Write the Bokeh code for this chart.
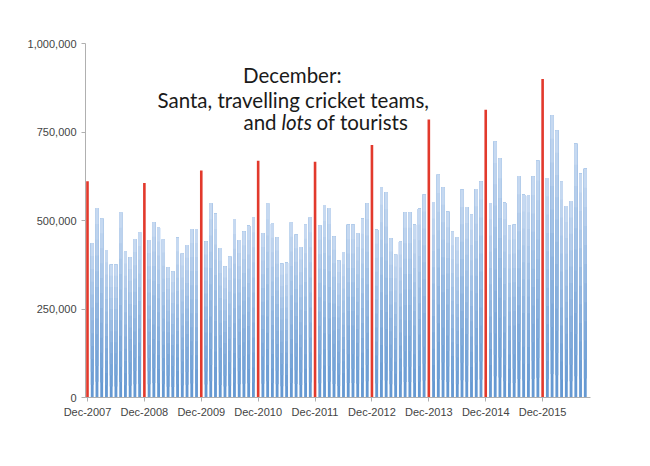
import pandas as pd
from bokeh.plotting import figure
from bokeh.models import Range1d, FixedTicker, NumeralTickFormatter, Label
from bokeh.embed import file_html
from bokeh.resources import INLINE

# ---- data ----
months = list(pd.date_range("2007-12-01", periods=106, freq="MS").strftime("%b-%Y"))
visitors = [
    611000, 436000, 535000, 506000, 417000, 375000, 375000, 523000, 413000, 396000, 448000, 467000,
    606000, 445000, 495000, 481000, 447000, 368000, 356000, 451000, 407000, 431000, 476000, 476000,
    641000, 441000, 549000, 519000, 422000, 370000, 398000, 504000, 445000, 469000, 485000, 509000,
    669000, 464000, 549000, 492000, 453000, 378000, 381000, 495000, 460000, 425000, 489000, 509000,
    666000, 486000, 544000, 535000, 455000, 387000, 411000, 488000, 488000, 464000, 505000, 549000,
    713000, 474000, 594000, 580000, 450000, 404000, 441000, 523000, 523000, 488000, 533000, 573000,
    785000, 552000, 630000, 594000, 525000, 469000, 453000, 587000, 538000, 517000, 589000, 610000,
    813000, 549000, 723000, 676000, 550000, 486000, 488000, 626000, 573000, 571000, 624000, 669000,
    900000, 620000, 797000, 754000, 610000, 541000, 555000, 717000, 632000, 646000,
]
y_ticks = [0, 250000, 500000, 750000, 1000000]

idx = list(range(len(visitors)))
is_dec = [m.startswith("Dec") for m in months]
dec_idx = [i for i in idx if is_dec[i]]

p = figure(width=650, height=466, output_backend="svg", toolbar_location=None,
           x_range=Range1d(-0.42, 106.1), y_range=Range1d(0, 1000000),
           min_border_left=85, min_border_right=60, min_border_top=43, min_border_bottom=69)
p.outline_line_color = None
p.xgrid.grid_line_color = None
p.ygrid.grid_line_color = None
p.background_fill_color = "white"
p.border_fill_color = "white"

# gradient blue bars (layered, lighter towards top)
def lerp(c1, c2, t):
    a = [int(c1[i:i + 2], 16) for i in (1, 3, 5)]
    b = [int(c2[i:i + 2], 16) for i in (1, 3, 5)]
    return "#%02x%02x%02x" % tuple(round(a[j] + (b[j] - a[j]) * t) for j in range(3))

N = 12
bottom_col, top_col = "#6699d2", "#c6d9f1"
blue_i = [i for i in idx if not is_dec[i]]
for k in range(N):
    t = k / (N - 1)
    p.vbar(x=[i for i in blue_i], bottom=[visitors[i] * k / N for i in blue_i],
           top=[visitors[i] for i in blue_i], width=0.6,
           fill_color=lerp(bottom_col, top_col, t), line_color=None)

p.vbar(x=dec_idx, top=[visitors[i] for i in dec_idx], width=0.55,
       fill_color="#e2392c", line_color=None)

# axes
p.yaxis.ticker = FixedTicker(ticks=y_ticks)
p.yaxis.formatter = NumeralTickFormatter(format="0,0")
p.xaxis.ticker = FixedTicker(ticks=dec_idx)
p.xaxis.major_label_overrides = {i: months[i] for i in dec_idx}
for ax in (p.xaxis[0], p.yaxis[0]):
    ax.axis_line_color = "#b0b0b0"
    ax.major_tick_line_color = "#b0b0b0"
    ax.major_tick_out = 4
    ax.major_tick_in = 0
    ax.minor_tick_line_color = None
    ax.major_label_text_font = "Liberation Sans"
    ax.major_label_text_font_size = "11px"
    ax.major_label_text_color = "#444444"
p.yaxis.major_label_standoff = 5
p.xaxis.major_label_standoff = 4

# annotation
font = "Lato"
fs = "20.5px"
col = "#1a1a1a"
p.add_layout(Label(x=43.2, y=910500, text="December:", text_align="center",
                   text_baseline="alphabetic", text_font=font, text_font_size=fs, text_color=col))
p.add_layout(Label(x=43.4, y=841000, text="Santa, travelling cricket teams,", text_align="center",
                   text_baseline="alphabetic", text_font=font, text_font_size=fs, text_color=col))
p.add_layout(Label(x=32.9, y=778800, text="and", text_align="left",
                   text_baseline="alphabetic", text_font=font, text_font_size=fs, text_color=col))
p.add_layout(Label(x=40.9, y=778800, text="lots", text_align="left", text_font_style="italic",
                   text_baseline="alphabetic", text_font=font, text_font_size=fs, text_color=col))
p.add_layout(Label(x=48.3, y=778800, text="of tourists", text_align="left",
                   text_baseline="alphabetic", text_font=font, text_font_size=fs, text_color=col))

open("out.html", "w").write(file_html(p, INLINE))
